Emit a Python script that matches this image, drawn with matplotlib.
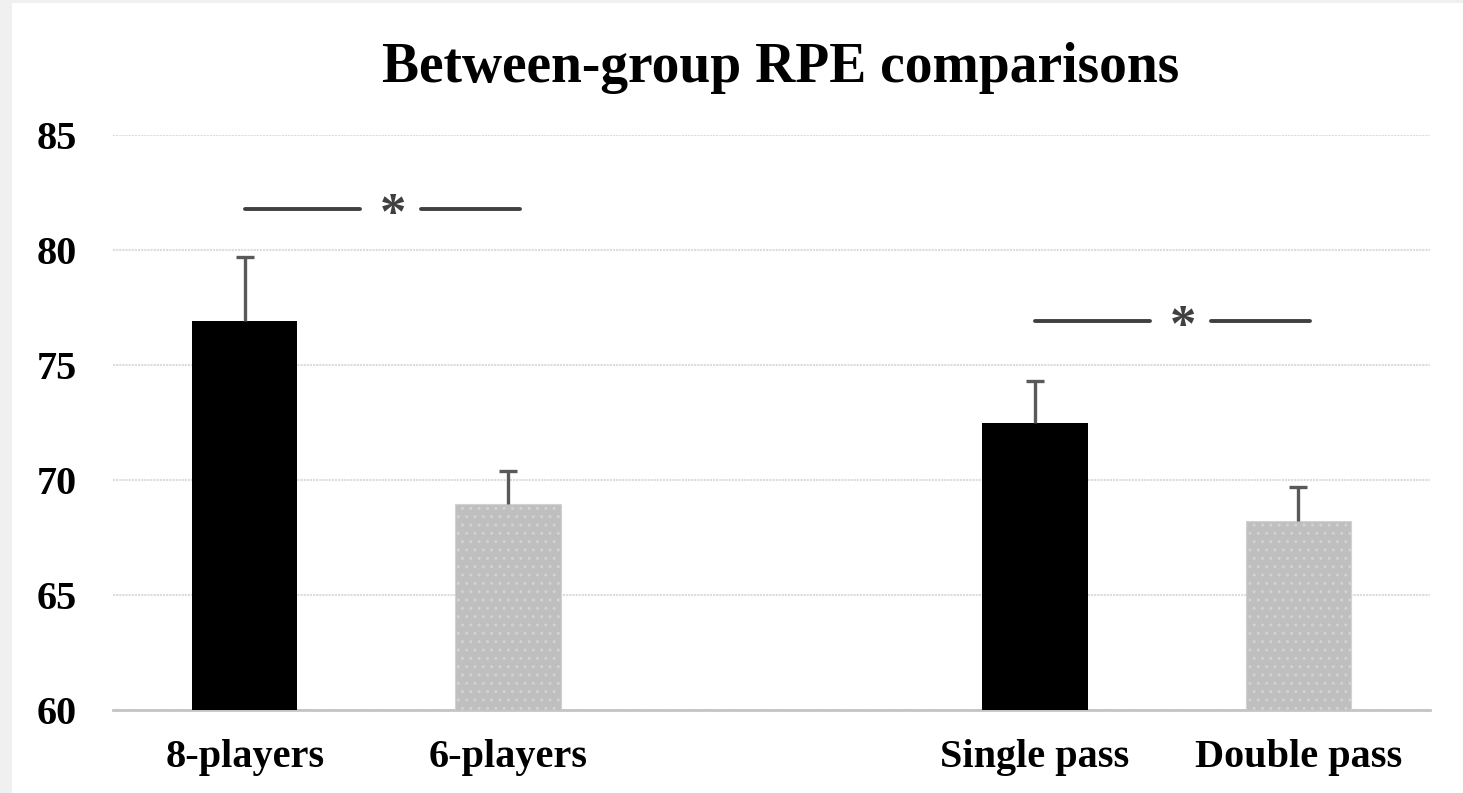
import matplotlib.pyplot as plt
from matplotlib.patches import Rectangle
import numpy as np

# data
groups = ["8-players", "6-players", "", "Single pass", "Double pass"]
means = [76.9, 68.95, np.nan, 72.5, 68.2]
errs = [2.8, 1.45, np.nan, 1.8, 1.5]
colors = ["black", "#bfbfbf", "white", "black", "#bfbfbf"]
sig_pairs = [(0, 1, 81.8), (3, 4, 76.9)]

plt.rcParams['font.family'] = ['Liberation Serif', 'DejaVu Serif']
plt.rcParams['hatch.linewidth'] = 1.0

fig = plt.figure(figsize=(14.63, 7.93), dpi=100)
fig.patch.set_facecolor('#f0f0f0')
fig.patches.append(Rectangle((12 / 1463, 0), 1, 1 - 3 / 793, transform=fig.transFigure,
                             facecolor='white', edgecolor='none', zorder=-10))
ax = fig.add_axes([113 / 1463, 1 - 710 / 793, (1430 - 113) / 1463, (710 - 135) / 793])
ax.set_zorder(1)
ax.set_facecolor('none')

x = np.arange(len(groups))
for i in range(len(groups)):
    if np.isnan(means[i]):
        continue
    if colors[i] == "black":
        ax.bar(x[i], means[i] - 60, bottom=60, width=0.4, color="black", zorder=3)
    else:
        ax.bar(x[i], means[i] - 60, bottom=60, width=0.4, color=colors[i],
               edgecolor="#d2d2d2", linewidth=0.8, hatch="..", zorder=3)
    eb = ax.errorbar(x[i], means[i], yerr=[[0], [errs[i]]], fmt='none', ecolor='#595959',
                     elinewidth=2.4, capsize=6.5, capthick=2.4, zorder=4)
    eb[1][0].set_visible(False)  # only the upper cap

for a, b, yv in sig_pairs:
    star = a + 0.563
    ax.plot([a, a + 0.438], [yv, yv], color='#404040', lw=2.8, solid_capstyle='round', zorder=5)
    ax.plot([a + 0.67, b + 0.046], [yv, yv], color='#404040', lw=2.8, solid_capstyle='round', zorder=5)
    ax.annotate("*", (star, yv), xytext=(0, -5), textcoords='offset points', ha='center',
                va='center', fontsize=38, fontweight='bold', color='#404040', zorder=5)

ax.set_xlim(-0.5, len(groups) - 0.5)
ax.set_ylim(60, 85)
ax.set_yticks([60, 65, 70, 75, 80, 85])
ax.set_xticks([0, 1, 3, 4])
ax.set_xticklabels([groups[i] for i in [0, 1, 3, 4]])
ax.yaxis.grid(True, color='#dcdcdc', lw=1.5, ls=(0, (1, 0.5)), zorder=0)
ax.set_axisbelow(True)
for s in ['top', 'right', 'left']:
    ax.spines[s].set_visible(False)
ax.spines['bottom'].set_color('#c4c4c4')
ax.spines['bottom'].set_linewidth(2)
ax.tick_params(axis='both', length=0, labelsize=29)
ax.tick_params(axis='y', pad=26)
ax.tick_params(axis='x', pad=21)
for lab in ax.get_xticklabels() + ax.get_yticklabels():
    lab.set_fontweight('bold')

fig.text(781 / 1463, 1 - 68 / 793, "Between-group RPE comparisons", ha='center', va='center',
         fontsize=40, fontweight='bold')

fig.savefig("out.png", dpi=100)
